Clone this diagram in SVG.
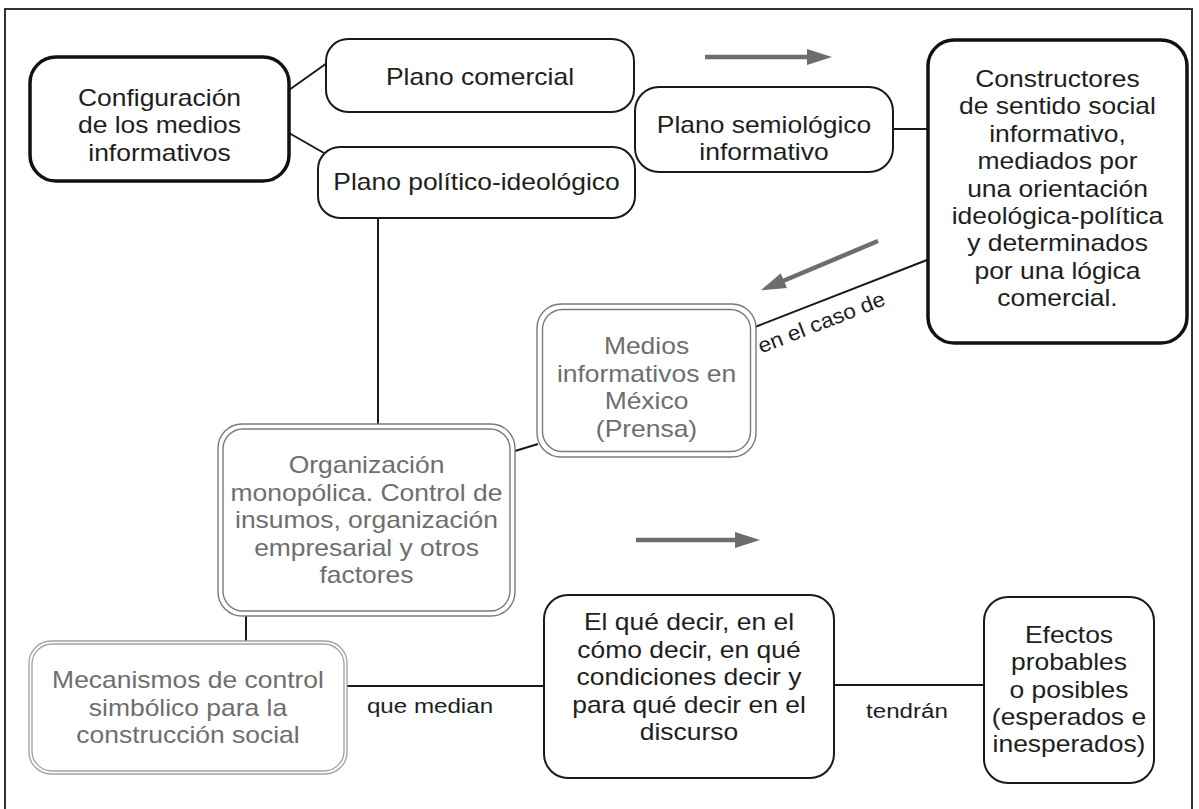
<svg xmlns="http://www.w3.org/2000/svg" width="1199" height="809" viewBox="0 0 1199 809">
<style>
.box{fill:#fff;stroke:#1a1a1a;stroke-width:2}
.thick{fill:#fff;stroke:#111;stroke-width:3.5}
.dbl{fill:none;stroke:#7a7a7a;stroke-width:1.4}
.dbl2{fill:none;stroke:#a0a0a0;stroke-width:1.3}
.t{font-family:"Liberation Sans",Arial,sans-serif;font-size:23px;fill:#1e1e1e;text-anchor:middle}
.g{fill:#6e6e6e}
.lbl{font-family:"Liberation Sans",Arial,sans-serif;font-size:21px;fill:#1e1e1e;text-anchor:middle}
.con{stroke:#1a1a1a;stroke-width:2;fill:none}
.arr{stroke:#6d6d6d;stroke-width:4.5;fill:none}
</style>
<defs>
<marker id="ah" markerUnits="userSpaceOnUse" markerWidth="26" markerHeight="18" refX="1" refY="8" orient="auto" viewBox="0 0 26 16">
<path d="M0,0 L25,8 L0,16 z" fill="#6d6d6d"/>
</marker>
</defs>
<rect x="5" y="9" width="1187" height="805" fill="none" stroke="#333" stroke-width="2"/>
<g id="connectors">
<line class="con" x1="289" y1="90" x2="327" y2="63"/>
<line class="con" x1="289" y1="133" x2="324" y2="153"/>
<line class="con" x1="893" y1="129" x2="928" y2="129"/>
<line class="con" x1="927" y1="260" x2="755" y2="327"/>
<line class="con" x1="378" y1="218" x2="378" y2="424"/>
<line class="con" x1="515" y1="451" x2="538" y2="444"/>
<line class="con" x1="246" y1="616" x2="246" y2="641"/>
<line class="con" x1="347" y1="686" x2="544" y2="686"/>
<line class="con" x1="834" y1="685" x2="984" y2="685"/>
<line class="arr" x1="705" y1="57" x2="808" y2="57" marker-end="url(#ah)"/>
<line class="arr" x1="878" y1="241" x2="783" y2="281" marker-end="url(#ah)"/>
<line class="arr" x1="636" y1="540" x2="736" y2="540" marker-end="url(#ah)"/>
<text class="lbl" transform="translate(824 329) rotate(-21.3) scale(1.08 1)" x="0" y="0">en el caso de</text>
<text class="lbl" transform="translate(430 0) scale(1.15 1)" x="0" y="713">que median</text>
<text class="lbl" transform="translate(907 0) scale(1.15 1)" x="0" y="718">tendrán</text>
</g>
<g id="configuracion">
<rect class="thick" x="30" y="57" width="259" height="124" rx="26"/>
<text class="t" transform="translate(159.5 0) scale(1.15 1)"><tspan x="0" y="106">Configuración</tspan><tspan x="0" y="133.5">de los medios</tspan><tspan x="0" y="161">informativos</tspan></text>
</g>
<g id="plano-comercial">
<rect class="box" x="326" y="39" width="308" height="73" rx="22"/>
<text class="t" transform="translate(480 0) scale(1.15 1)"><tspan x="0" y="85">Plano comercial</tspan></text>
</g>
<g id="plano-politico">
<rect class="box" x="318" y="147" width="317" height="71" rx="22"/>
<text class="t" transform="translate(476.5 0) scale(1.15 1)"><tspan x="0" y="190">Plano político-ideológico</tspan></text>
</g>
<g id="plano-semiologico">
<rect class="box" x="635" y="87" width="258" height="85" rx="24"/>
<text class="t" transform="translate(764 0) scale(1.15 1)"><tspan x="0" y="133">Plano semiológico</tspan><tspan x="0" y="160">informativo</tspan></text>
</g>
<g id="constructores">
<rect class="thick" x="928" y="40" width="259" height="303" rx="26"/>
<text class="t" transform="translate(1057.5 0) scale(1.15 1)"><tspan x="0" y="87">Constructores</tspan><tspan x="0" y="114.4">de sentido social</tspan><tspan x="0" y="141.8">informativo,</tspan><tspan x="0" y="169.2">mediados por</tspan><tspan x="0" y="196.6">una orientación</tspan><tspan x="0" y="224">ideológica-política</tspan><tspan x="0" y="251.4">y determinados</tspan><tspan x="0" y="278.8">por una lógica</tspan><tspan x="0" y="306.2">comercial.</tspan></text>
</g>
<g id="medios-mexico">
<rect x="537" y="304" width="219" height="153" rx="24" fill="#fff"/>
<rect class="dbl" x="537" y="304" width="219" height="153" rx="24"/>
<rect class="dbl" x="542.5" y="309.5" width="208" height="142" rx="20"/>
<text class="t g" transform="translate(646.5 0) scale(1.15 1)"><tspan x="0" y="354">Medios</tspan><tspan x="0" y="382">informativos en</tspan><tspan x="0" y="409">México</tspan><tspan x="0" y="437">(Prensa)</tspan></text>
</g>
<g id="organizacion">
<rect x="218" y="424" width="297" height="192" rx="24" fill="#fff"/>
<rect class="dbl" x="218" y="424" width="297" height="192" rx="24"/>
<rect class="dbl" x="223" y="429" width="287" height="182" rx="20"/>
<text class="t g" transform="translate(366.5 0) scale(1.15 1)"><tspan x="0" y="473">Organización</tspan><tspan x="0" y="501">monopólica. Control de</tspan><tspan x="0" y="528">insumos, organización</tspan><tspan x="0" y="556">empresarial y otros</tspan><tspan x="0" y="583">factores</tspan></text>
</g>
<g id="mecanismos">
<rect x="29" y="641" width="318" height="133" rx="22" fill="#fff"/>
<rect class="dbl2" x="29" y="641" width="318" height="133" rx="22"/>
<rect class="dbl2" x="32" y="644" width="312" height="127" rx="20"/>
<text class="t g" transform="translate(188 0) scale(1.15 1)"><tspan x="0" y="688">Mecanismos de control</tspan><tspan x="0" y="716">simbólico para la</tspan><tspan x="0" y="743">construcción social</tspan></text>
</g>
<g id="el-que-decir">
<rect class="box" x="544" y="595" width="290" height="183" rx="24"/>
<text class="t" transform="translate(689 0) scale(1.15 1)"><tspan x="0" y="630">El qué decir, en el</tspan><tspan x="0" y="658">cómo decir, en qué</tspan><tspan x="0" y="685">condiciones decir y</tspan><tspan x="0" y="713">para qué decir en el</tspan><tspan x="0" y="740">discurso</tspan></text>
</g>
<g id="efectos">
<rect class="box" x="984" y="597" width="170" height="186" rx="24"/>
<text class="t" transform="translate(1069 0) scale(1.15 1)"><tspan x="0" y="643">Efectos</tspan><tspan x="0" y="670">probables</tspan><tspan x="0" y="698">o posibles</tspan><tspan x="0" y="725">(esperados e</tspan><tspan x="0" y="752">inesperados)</tspan></text>
</g>
</svg>
